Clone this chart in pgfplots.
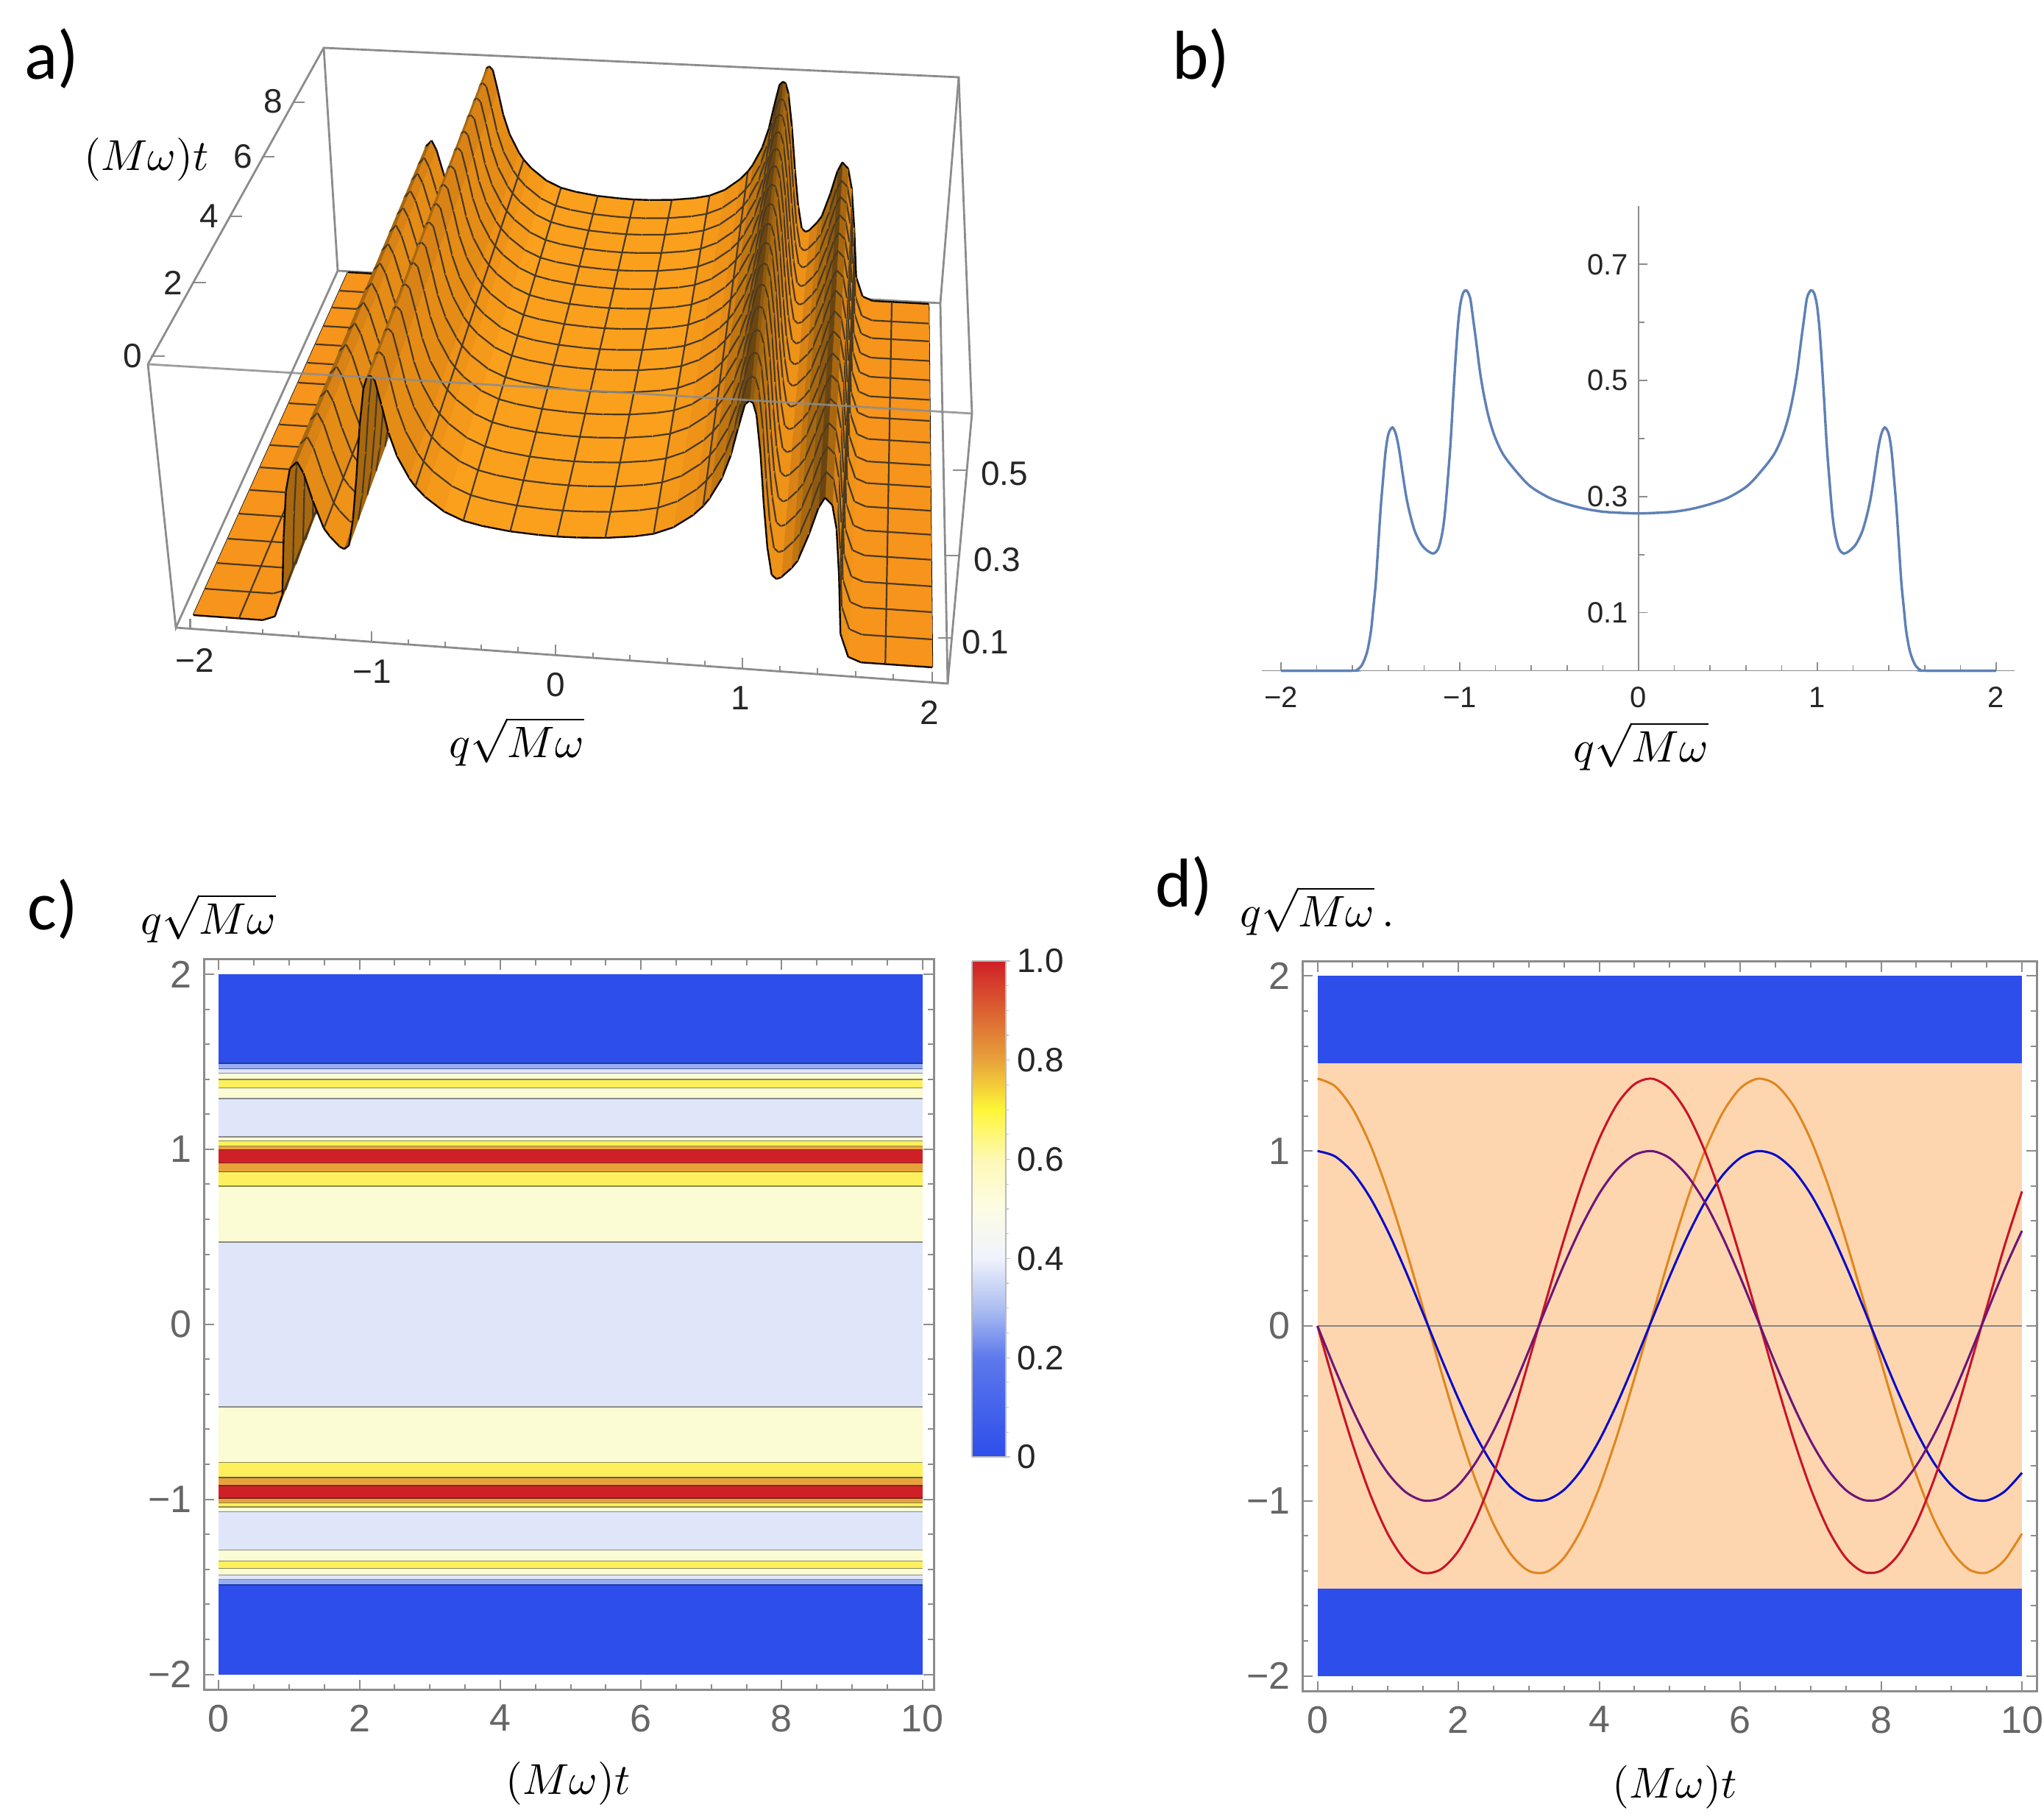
\documentclass[border=0pt]{standalone}
\usepackage{pgfplots}
\usepackage{pgfplotstable}
\usepackage{fontspec}
\setmainfont{Liberation Sans}
\newfontfamily\calfont{Carlito}
\pgfplotsset{compat=1.18}
% colours
\definecolor{boxg}{HTML}{8C8C8C}
\definecolor{lblg}{HTML}{666666}
\definecolor{meshc}{HTML}{4A3A20}
\definecolor{tA}{HTML}{FBA01D}
\definecolor{tB}{HTML}{F5991A}
\definecolor{tC}{HTML}{EE9218}
\definecolor{tD}{HTML}{E58C16}
\definecolor{tE}{HTML}{D98215}
\definecolor{tF}{HTML}{F7941B}
\definecolor{tG}{HTML}{C07610}
\definecolor{tH}{HTML}{A8680F}
\definecolor{tI}{HTML}{8F5A10}
\definecolor{tJ}{HTML}{6B4510}
\definecolor{cblue}{HTML}{2D4EEB}
\definecolor{clb}{HTML}{98AEEE}
\definecolor{cpb}{HTML}{E0E6FA}
\definecolor{cpy}{HTML}{FBFBD4}
\definecolor{cye}{HTML}{FDF05C}
\definecolor{cor}{HTML}{E8A23A}
\definecolor{cre}{HTML}{CF2028}
\definecolor{lg}{HTML}{8A8A8A}
\definecolor{ly}{HTML}{8A8A50}
\definecolor{ld}{HTML}{7A2A15}
\definecolor{lbl}{HTML}{1C3AA8}
\definecolor{peach}{HTML}{FDD6B0}
\definecolor{corange}{HTML}{E0861E}
\definecolor{cred}{HTML}{C81428}
\definecolor{cbl}{HTML}{0A0AC8}
\definecolor{cpu}{HTML}{6E1478}
\definecolor{bcurve}{HTML}{5E81B5}
\pgfplotsset{colormap={heat}{
  color(0)=(cblue) color(0.2)=(cblue!55!clb) color(0.3)=(clb!80!white) color(0.4)=(cpb!50!white)
  color(0.5)=(cpy!60!white) color(0.6)=(cye!45!white) color(0.7)=(cye!60!yellow) color(0.8)=(cor) color(1)=(cre)}}
% surface of panel a: profile (q,v) taken to the picture
\newcommand\Calc[2]{%
  \pgfmathsetmacro\xfN{757+(#1<0?247:255)*#1+26*#1*#2}%
  \pgfmathsetmacro\yfN{871.5+17.75*#1-525*#2}%
  \pgfmathsetmacro\xbN{862+(#1<0?194.5:200)*#1+15.5*#1*#2}%
  \pgfmathsetmacro\ybN{391.5+10.75*#1-444*#2}}
\newcommand\First[2]{\Calc{#1}{#2}%
  \let\xfP\xfN\let\yfP\yfN\let\xbP\xbN\let\ybP\ybN
  \def\prevflag{0}%
  \edef\cmd{\noexpand\addplot[black,line width=.6pt] coordinates {(\xfN,\yfN)(\xbN,\ybN)};}\cmd}
\newcommand\Sg[4]{\Calc{#1}{#2}%
  \edef\cmd{\noexpand\addplot[fill=#3,draw=#3,line width=.2pt] coordinates {(\xfP,\yfP)(\xfN,\yfN)(\xbN,\ybN)(\xbP,\ybP)} -- cycle;}\cmd
  \gdef\pts{}%
  \ifnum\prevflag=1 \xdef\pts{(\xfP,\yfP)(\xbP,\ybP)(nan,nan)}\fi
  \foreach \s in {.077,.152,.223,.296,.365,.431,.496,.556,.618,.678,.736,.790,.843,.897,.946}{%
    \pgfmathsetmacro\ax{\xfP+\s*(\xbP-\xfP)}\pgfmathsetmacro\ay{\yfP+\s*(\ybP-\yfP)}%
    \pgfmathsetmacro\bx{\xfN+\s*(\xbN-\xfN)}\pgfmathsetmacro\by{\yfN+\s*(\ybN-\yfN)}%
    \xdef\pts{\pts(\ax,\ay)(\bx,\by)(nan,nan)}}%
  \edef\cmd{\noexpand\addplot[meshc,line width=.55pt] coordinates {\pts};}\cmd
  \edef\cmd{\noexpand\addplot[black!85!tJ,line width=.6pt] coordinates {(\xfP,\yfP)(\xfN,\yfN)(nan,nan)(\xbP,\ybP)(\xbN,\ybN)};}\cmd
  \let\xfP\xfN\let\yfP\yfN\let\xbP\xbN\let\ybP\ybN
  \def\prevflag{#4}}
\newcommand\Flush{\edef\cmd{\noexpand\addplot[meshc,line width=.55pt] coordinates {(\xfP,\yfP)(\xbP,\ybP)};}\cmd}
\newcommand\Band[4]{%
  \addplot[fill=#3,draw=none] coordinates {(0,#1)(10,#1)(10,#2)(0,#2)} -- cycle;
  \addplot[#4,line width=.75pt] coordinates {(0,#2)(10,#2)};}
\pgfplotstableread{
q v
-2 0
-1.607 0
-1.573 .002
-1.545 .011
-1.518 .033
-1.497 .068
-1.484 .107
-1.470 .151
-1.456 .216
-1.442 .282
-1.429 .330
-1.415 .378
-1.399 .408
-1.377 .419
-1.358 .408
-1.340 .382
-1.319 .338
-1.299 .299
-1.278 .269
-1.251 .240
-1.216 .218
-1.182 .207
-1.148 .202
-1.121 .210
-1.100 .234
-1.084 .269
-1.066 .334
-1.052 .391
-1.038 .465
-1.025 .531
-1.011 .592
-.997 .631
-.981 .651
-.963 .655
-.942 .642
-.925 .605
-.908 .566
-.888 .517
-.867 .478
-.840 .439
-.805 .404
-.758 .373
-.689 .345
-.607 .318
-.50 .298
-.40 .287
-.30 .279
-.20 .274
-.10 .272
0 .271
.10 .272
.20 .274
.30 .279
.40 .287
.50 .298
.607 .318
.689 .345
.758 .373
.805 .404
.840 .439
.867 .478
.888 .517
.908 .566
.925 .605
.942 .642
.963 .655
.981 .651
.997 .631
1.011 .592
1.025 .531
1.038 .465
1.052 .391
1.066 .334
1.084 .269
1.100 .234
1.121 .210
1.148 .202
1.182 .207
1.216 .218
1.251 .240
1.278 .269
1.299 .299
1.319 .338
1.340 .382
1.358 .408
1.377 .419
1.399 .408
1.415 .378
1.429 .330
1.442 .282
1.456 .216
1.470 .151
1.484 .107
1.497 .068
1.518 .033
1.545 .011
1.573 .002
1.607 0
2 0
}\tableB
\pgfplotstableread{
t blue purple orange red
0 1 0 1.414 0
0.25 .9689 -.2474 1.370 -.350
0.5 .8776 -.4794 1.241 -.678
0.75 .7317 -.6816 1.035 -.964
1 .5403 -.8415 .764 -1.190
1.25 .3153 -.9490 .446 -1.342
1.5 .0707 -.9975 .100 -1.411
1.75 -.1782 -.9840 -.252 -1.391
2 -.4161 -.9093 -.588 -1.286
2.25 -.6282 -.7781 -.888 -1.100
2.5 -.8011 -.5985 -1.133 -.846
2.75 -.9243 -.3817 -1.307 -.540
3 -.9900 -.1411 -1.400 -.200
3.25 -.9941 .1082 -1.406 .153
3.5 -.9365 .3508 -1.324 .496
3.75 -.8206 .5716 -1.160 .808
4 -.6536 .7568 -.924 1.070
4.25 -.4461 .8950 -.631 1.266
4.5 -.2108 .9775 -.298 1.382
4.75 .0376 .9993 .053 1.413
5 .2837 .9589 .401 1.356
5.25 .5121 .8589 .724 1.215
5.5 .7087 .7055 1.002 .998
5.75 .8612 .5083 1.218 .719
6 .9602 .2794 1.358 .395
6.25 .9994 .0332 1.413 .047
6.5 .9766 -.2151 1.381 -.304
6.75 .8930 -.4500 1.263 -.636
7 .7539 -.6570 1.066 -.929
7.25 .5679 -.8231 .803 -1.164
7.5 .3466 -.9380 .490 -1.326
7.75 .1042 -.9946 .147 -1.406
8 -.1455 -.9894 -.206 -1.399
8.25 -.3853 -.9228 -.545 -1.305
8.5 -.6020 -.7985 -.851 -1.129
8.75 -.7826 -.6225 -1.107 -.880
9 -.9111 -.4121 -1.288 -.583
9.25 -.9847 -.1743 -1.392 -.246
9.5 -.9972 .0752 -1.410 .106
9.75 -.9469 .3216 -1.339 .455
10 -.8391 .5440 -1.187 .769
}\tableD
\pgfplotsset{framed/.style={
  anchor=south west,scale only axis,
  xtick={0,2,4,6,8,10},xticklabels={0,2,4,6,8,10},
  ytick={-2,-1,0,1,2},yticklabels={−2,−1,0,1,2},
  minor x tick num=3,minor y tick num=4,
  major tick length=3.4pt,minor tick length=2pt,
  axis line style={draw=boxg,line width=.75pt},
  tick style={draw=boxg,line width=.5pt},
  tick label style={font=\fontsize{13}{15}\selectfont,text=lblg},
  xticklabel style={yshift=-1.5pt},
  yticklabel style={xshift=-.5pt}}}
\begin{document}
\begin{tikzpicture}
\path[use as bounding box] (0,0) rectangle (694.5pt,617pt);
% ---------- full-page axis in reference pixels: panel a and the labels
\begin{axis}[at={(0pt,0pt)},anchor=south west,scale only axis,width=694.5pt,height=617pt,
  xmin=0,xmax=2778,ymin=0,ymax=2468,y dir=reverse,hide axis,clip=false,unbounded coords=jump]
% box behind the surface
\addplot[boxg,line width=.7pt] coordinates {(201,495)(440,65)(1303,105)(1321,562)};
\addplot[boxg,line width=.7pt] coordinates {(440,65)(459,368)(1278,412)(1303,105)};
\addplot[boxg,line width=.7pt] coordinates {(201,495)(239,853)(459,368)};
\addplot[boxg,line width=.7pt] coordinates {(239,853)(1288,929)(1321,562)};
\addplot[boxg,line width=.7pt] coordinates {(1278,412)(1288,929)};
% ticks
\addplot[boxg,line width=.6pt] coordinates {(205,484)(224,484)(nan,nan)(262,384)(280,384)(nan,nan)(312,294)(329,294)(nan,nan)(356,213)(373,213)(nan,nan)(398,139)(414,139)};
\addplot[boxg,line width=.6pt] coordinates {(1295,639)(1314,639)(nan,nan)(1285,755)(1303,755)(nan,nan)(1275,867)(1293,867)};
\addplot[boxg,line width=.6pt] coordinates {(258.6,855)(258.6,841)(nan,nan)(308,858.5)(308,851)(nan,nan)(357,862)(357,855)(nan,nan)(406,865.5)(406,858)(nan,nan)(456,869)(456,862)(nan,nan)(505,872.6)(505,858)(nan,nan)(555,876.2)(555,869)(nan,nan)(605,879.7)(605,872)(nan,nan)(654,883.2)(654,876)(nan,nan)(704,886.8)(704,879)(nan,nan)(755,890.5)(755,876)(nan,nan)(806,894)(806,887)(nan,nan)(856,897.7)(856,890)(nan,nan)(907,901.3)(907,894)(nan,nan)(958,905)(958,898)(nan,nan)(1009,908.6)(1009,894)(nan,nan)(1060,912.2)(1060,905)(nan,nan)(1111,915.9)(1111,908)(nan,nan)(1163,919.6)(1163,912)(nan,nan)(1214,923.2)(1214,916)(nan,nan)(1267,927)(1267,913)};
% surface, left part from outside to the middle
\First{-2}{0}
\Sg{-1.75}{0}{tF}{1}
\Sg{-1.62}{0}{tF}{0}
\Sg{-1.55}{.012}{tF}{0}
\Sg{-1.5}{.07}{tH}{1}
\Sg{-1.47}{.22}{tH}{0}
\Sg{-1.44}{.34}{tH}{0}
\Sg{-1.41}{.40}{tH}{0}
\Sg{-1.37}{.418}{tH}{0}
\Sg{-1.34}{.39}{tE}{0}
\Sg{-1.30}{.32}{tD}{0}
\Sg{-1.25}{.25}{tD}{1}
\Sg{-1.22}{.23}{tC}{0}
\Sg{-1.17}{.205}{tC}{0}
\Sg{-1.146}{.2}{tC}{0}
\Sg{-1.12}{.21}{tH}{0}
\Sg{-1.09}{.28}{tH}{0}
\Sg{-1.06}{.39}{tH}{0}
\Sg{-1.03}{.52}{tH}{0}
\Sg{-1.00}{.62}{tH}{0}
\Sg{-.98}{.65}{tH}{0}
\Sg{-.962}{.655}{tH}{0}
\Sg{-.94}{.645}{tE}{0}
\Sg{-.91}{.58}{tE}{0}
\Sg{-.88}{.51}{tD}{0}
\Sg{-.84}{.45}{tD}{0}
\Sg{-.78}{.395}{tD}{0}
\Sg{-.75}{.375}{tC}{1}
\Sg{-.70}{.35}{tC}{0}
\Sg{-.60}{.315}{tB}{0}
\Sg{-.50}{.295}{tA}{1}
\Sg{-.40}{.285}{tA}{0}
\Sg{-.25}{.276}{tA}{1}
\Sg{-.1}{.272}{tA}{0}
\Sg{0}{.271}{tA}{1}
% right part from outside to the middle
\First{2}{0}
\Sg{1.75}{0}{tF}{1}
\Sg{1.62}{0}{tF}{0}
\Sg{1.55}{.012}{tF}{0}
\Sg{1.5}{.07}{tC}{0}
\Sg{1.47}{.22}{tD}{0}
\Sg{1.44}{.34}{tD}{0}
\Sg{1.41}{.40}{tE}{0}
\Sg{1.37}{.418}{tH}{0}
\Sg{1.34}{.39}{tJ}{0}
\Sg{1.30}{.32}{tI}{0}
\Sg{1.25}{.25}{tH}{0}
\Sg{1.22}{.23}{tG}{0}
\Sg{1.17}{.205}{tE}{0}
\Sg{1.146}{.2}{tC}{0}
\Sg{1.12}{.21}{tC}{0}
\Sg{1.09}{.28}{tC}{0}
\Sg{1.06}{.39}{tD}{0}
\Sg{1.03}{.52}{tE}{0}
\Sg{1.00}{.62}{tG}{0}
\Sg{.98}{.65}{tH}{0}
\Sg{.962}{.655}{tI}{0}
\Sg{.94}{.645}{tJ}{0}
\Sg{.91}{.58}{tJ}{0}
\Sg{.88}{.51}{tI}{0}
\Sg{.84}{.45}{tH}{0}
\Sg{.78}{.395}{tG}{0}
\Sg{.75}{.375}{tE}{1}
\Sg{.70}{.35}{tD}{0}
\Sg{.60}{.315}{tC}{0}
\Sg{.50}{.295}{tB}{1}
\Sg{.40}{.285}{tA}{0}
\Sg{.25}{.276}{tA}{1}
\Sg{.1}{.272}{tA}{0}
\Sg{0}{.271}{tA}{1}
\Flush
% front upper edge of the box over the surface
\addplot[boxg,line width=.7pt,opacity=.85] coordinates {(201,495)(1321,562)};
% labels of panel a
\begin{scope}[every node/.style={font=\fontsize{11.5}{13}\selectfont,text=black!85}]
\node at (axis cs:180,484) {0};
\node at (axis cs:235,384) {2};
\node at (axis cs:284,294) {4};
\node at (axis cs:330,213) {6};
\node at (axis cs:371,138) {8};
\node at (axis cs:1365,644) {0.5};
\node at (axis cs:1355,761) {0.3};
\node at (axis cs:1339,873) {0.1};
\node at (axis cs:265,897) {−2};
\node at (axis cs:506,913) {−1};
\node at (axis cs:755,931) {0};
\node at (axis cs:1006,949) {1};
\node at (axis cs:1263,968) {2};
\end{scope}
% maths labels
\node[scale=1.47] at (axis cs:199,217) {$(M\omega)t$};
\node[scale=1.5] at (axis cs:702,1008) {$q\sqrt{M\omega}$};
\node[scale=1.5] at (axis cs:2230,1014) {$q\sqrt{M\omega}$};
\node[scale=1.5] at (axis cs:283,1248) {$q\sqrt{M\omega}$};
\node[scale=1.47] at (axis cs:772,2424) {$(M\omega)t$};
\node[scale=1.5] at (axis cs:1790,1238) {$q\sqrt{M\omega}\,.$};
\node[scale=1.47] at (axis cs:2276,2429) {$(M\omega)t$};
% panel letters
\begin{scope}[every node/.style={font=\calfont\fontsize{23.5}{27}\selectfont}]
\node at (axis cs:70,80) {a)};
\node at (axis cs:1632,80) {b)};
\node at (axis cs:72,1236) {c)};
\node at (axis cs:1609,1205) {d)};
\end{scope}
\end{axis}
% ---------- panel b
\begin{axis}[at={(428.75pt,389.1pt)},anchor=south west,scale only axis,width=255.75pt,height=157.8pt,
  axis lines=middle,axis line style={-,draw=boxg,line width=.4pt},
  xmin=-2.107,xmax=2.103,ymin=0,ymax=.8,
  xtick={-2,-1,0,1,2},xticklabels={−2,−1,0,1,2},
  ytick={.1,.3,.5,.7},yticklabels={0.1,0.3,0.5,0.7},
  minor x tick num=4,minor y tick num=1,
  hide obscured x ticks=false,hide obscured y ticks=false,
  tick align=inside,major tick length=3pt,minor tick length=2pt,
  tick style={draw=boxg,line width=.4pt},
  tick label style={font=\fontsize{10}{12}\selectfont,text=black!85},
  xticklabel style={yshift=-2pt},
  clip=false]
\addplot[bcurve,line width=.85pt,smooth] table[x=q,y=v] {\tableB};
\end{axis}
% ---------- panel c
\begin{axis}[framed,at={(69.25pt,42.75pt)},width=248pt,height=248.25pt,
  xmin=-.213,xmax=10.16,ymin=-2.09,ymax=2.084]
\Band{2}{1.487}{cblue}{lbl}
\Band{1.487}{1.456}{clb}{lbl!60!lg}
\Band{1.456}{1.431}{cpb}{lg}
\Band{1.431}{1.395}{cpy}{ly}
\Band{1.395}{1.347}{cye}{ly}
\Band{1.347}{1.287}{cpy}{lg}
\Band{1.287}{1.068}{cpb}{lg}
\Band{1.068}{1.044}{cpy}{ly}
\Band{1.044}{1.016}{cye}{ly}
\Band{1.016}{.995}{cor}{ld}
\Band{.995}{.919}{cre}{ld}
\Band{.919}{.869}{cor}{ly!70!black}
\Band{.869}{.787}{cye}{ly}
\Band{.787}{.466}{cpy}{lg}
\Band{.466}{-.476}{cpb}{lg}
\Band{-.476}{-.792}{cpy}{ly}
\Band{-.792}{-.879}{cye}{ly!70!black}
\Band{-.879}{-.924}{cor}{ld}
\Band{-.924}{-.997}{cre}{ld}
\Band{-.997}{-1.024}{cor}{ly}
\Band{-1.024}{-1.047}{cye}{ly}
\Band{-1.047}{-1.074}{cpy}{lg}
\Band{-1.074}{-1.293}{cpb}{lg}
\Band{-1.293}{-1.356}{cpy}{ly}
\Band{-1.356}{-1.398}{cye}{ly}
\Band{-1.398}{-1.435}{cpy}{lg}
\Band{-1.435}{-1.46}{cpb}{lg}
\Band{-1.46}{-1.493}{clb}{lbl}
\addplot[fill=cblue,draw=none] coordinates {(0,-1.493)(10,-1.493)(10,-2)(0,-2)} -- cycle;
\end{axis}
% ---------- colour bar
\begin{axis}[at={(330.25pt,122pt)},anchor=south west,scale only axis,width=11.5pt,height=168.5pt,
  view={0}{90},colormap name=heat,
  xmin=0,xmax=1,ymin=0,ymax=1,xtick=\empty,
  ytick={0,.2,.4,.6,.8,1},yticklabels={0,0.2,0.4,0.6,0.8,1.0},minor y tick num=3,
  ytick pos=right,tick align=outside,major tick length=1.5pt,minor tick length=1pt,
  axis line style={draw=boxg!60,line width=.3pt},tick style={draw=boxg!50,line width=.3pt},
  tick label style={font=\fontsize{11.5}{13}\selectfont,text=black!85},
  yticklabel style={xshift=-1.2pt}]
\addplot3[surf,shader=interp,point meta=y] coordinates {
 (0,0,0) (1,0,0)

 (0,.2,0) (1,.2,0)

 (0,.3,0) (1,.3,0)

 (0,.4,0) (1,.4,0)

 (0,.5,0) (1,.5,0)

 (0,.6,0) (1,.6,0)

 (0,.7,0) (1,.7,0)

 (0,.8,0) (1,.8,0)

 (0,1,0) (1,1,0)
};
\end{axis}
% ---------- panel d
\begin{axis}[framed,at={(442.5pt,42.25pt)},width=249.5pt,height=248pt,
  xmin=-.215,xmax=10.208,ymin=-2.09,ymax=2.082]
\addplot[fill=cblue,draw=none] coordinates {(0,1.5)(10,1.5)(10,2)(0,2)} -- cycle;
\addplot[fill=peach,draw=none] coordinates {(0,-1.5)(10,-1.5)(10,1.5)(0,1.5)} -- cycle;
\addplot[fill=cblue,draw=none] coordinates {(0,-2)(10,-2)(10,-1.5)(0,-1.5)} -- cycle;
\addplot[lblg!80,line width=.35pt] coordinates {(0,0)(10,0)};
\addplot[corange,line width=.75pt,smooth] table[x=t,y=orange] {\tableD};
\addplot[cbl,line width=.75pt,smooth] table[x=t,y=blue] {\tableD};
\addplot[cred,line width=.75pt,smooth] table[x=t,y=red] {\tableD};
\addplot[cpu,line width=.75pt,smooth] table[x=t,y=purple] {\tableD};
\end{axis}
\end{tikzpicture}
\end{document}
